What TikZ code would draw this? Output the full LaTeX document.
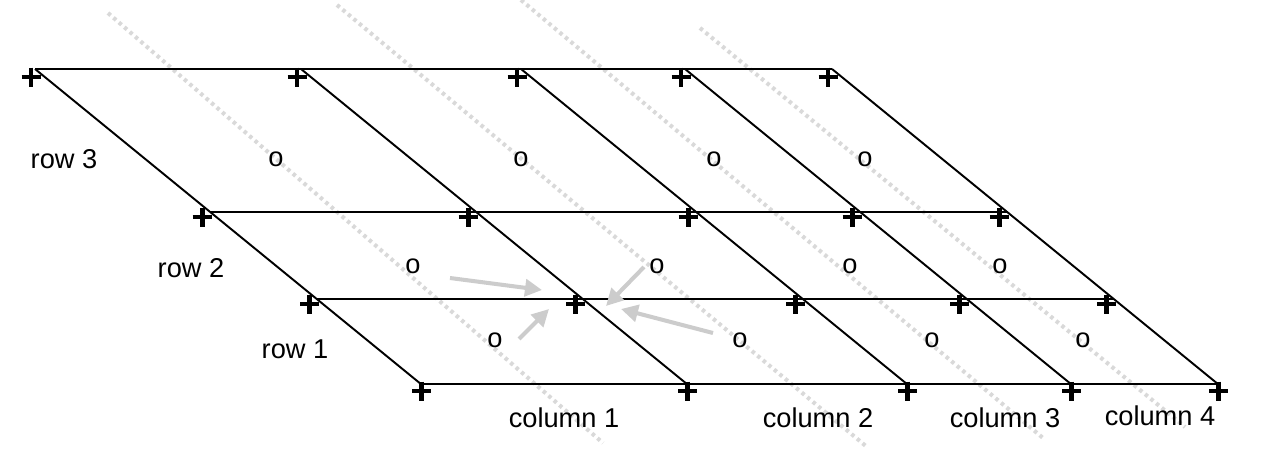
\documentclass[tikz,border=0pt]{standalone}
\usepackage{fontspec}
\setmainfont{Liberation Sans}
\usetikzlibrary{arrows.meta,calc,positioning}
\tikzset {
  >=Stealth,
  every node/.style={font=\fontsize{15.5}{18}\selectfont},
  grid/.style={line width=1.1pt},
  guide/.style={gray!30,line width=2.3pt,dash pattern=on 2pt off 2.1pt},
  hint/.style={gray!40,line width=2.3pt,-{Triangle[length=0.34cm,width=0.34cm]}},
  plusmark/.style={line width=2.8pt},
}

\begin{document}
\begin{tikzpicture}[x=0.02cm,y=-0.02cm]
  \useasboundingbox (0,0) rectangle (1261,450);
  % dotted guides
  \draw[guide] (108,13) -- (603,443);
  \draw[guide] (337,5) -- (867,447);
  \draw[guide] (521,0) -- (1043,438);
  \draw[guide] (700,28) -- (1185,427);
  % lattice points
  \foreach \y [count=\i from 0] in {69,212,299,384}
    \foreach \x [count=\j from 0] in {35,301,521,685,832}
      \coordinate (p\i\j) at ({\x+1.225*(\y-69)},\y);
  \foreach \i in {0,...,3} \draw[grid] (p\i0) -- (p\i4);
  \foreach \j in {0,...,4} \draw[grid] (p0\j) -- (p3\j);
  \foreach \i/\dx/\dy in {0/-4/8,1/-8/5,2/-7/5,3/1/7}
    \foreach \j in {0,...,4}
      \draw[plusmark] ($(p\i\j)+(\dx,\dy)$) +(-9.5,0) -- +(9.5,0) +(0,-9.5) -- +(0,9.5);
  % cell marks
  \node (o31) at (276,159) {o};
  \node (o32) at (521,159) {o};
  \node (o33) at (714,159) {o};
  \node (o34) at (865,159) {o};
  \node (o21) at (413,266) {o};
  \node (o22) at (657,266) {o};
  \node (o23) at (850,266) {o};
  \node (o24) at (1000,266) {o};
  \node (o11) at (495,340) {o};
  \node (o12) at (740,340) {o};
  \node (o13) at (932,340) {o};
  \node (o14) at (1083,340) {o};
  % labels
  \node (row3) at (64,159) {row 3};
  \node (row2) at (191,268) {row 2};
  \node (row1) at (295,349) {row 1};
  \node (col1) at (564,418) {column 1};
  \node (col2) at (818,418) {column 2};
  \node (col3) at (1005,418) {column 3};
  \node (col4) at (1160,416) {column 4};
  % arrows into the middle point
  \coordinate (t1) at (450,278); \coordinate (h1) at (542,290);
  \coordinate (t2) at (519,339); \coordinate (h2) at (549,309);
  \coordinate (t3) at (644,267); \coordinate (h3) at (606,306);
  \coordinate (t4) at (713,333); \coordinate (h4) at (621,309);
  \foreach \k in {1,...,4} \draw[hint] (t\k) -- (h\k);
\end{tikzpicture}
\end{document}
